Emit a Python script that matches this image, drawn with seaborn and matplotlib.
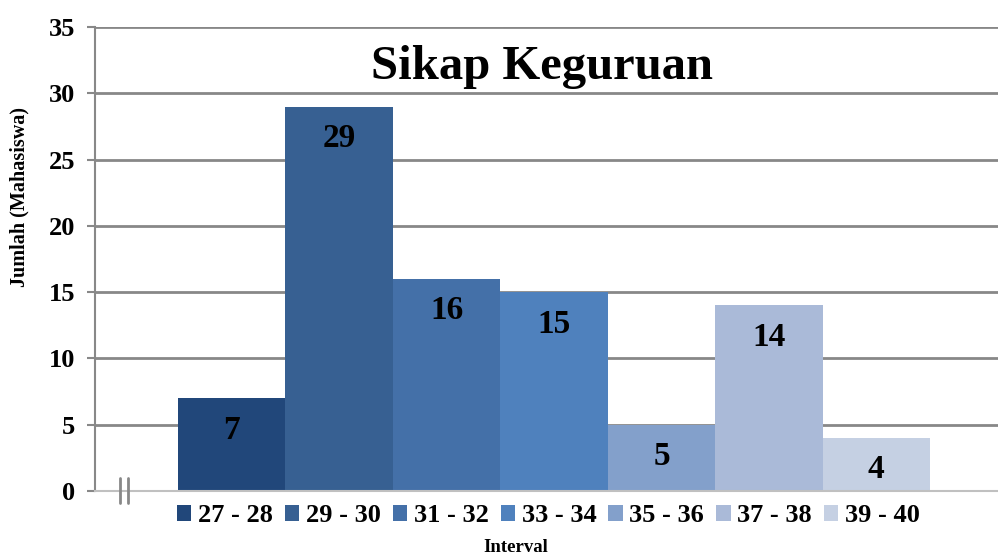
import pandas as pd
import matplotlib
matplotlib.use("Agg")
import matplotlib.pyplot as plt
import seaborn as sns

# data
intervals = ["27 - 28", "29 - 30", "31 - 32", "33 - 34", "35 - 36", "37 - 38", "39 - 40"]
jumlah = [7, 29, 16, 15, 5, 14, 4]
colors = ["#21477a", "#376092", "#4470a8", "#4f81bd", "#83a0cb", "#aabad8", "#c5d0e3"]

df = pd.DataFrame({"Interval": intervals, "Jumlah": jumlah})

sns.set_style("white")
plt.rcParams["font.family"] = ["Liberation Serif", "DejaVu Serif"]
plt.rcParams["font.weight"] = "bold"
plt.rcParams["text.color"] = "black"
plt.rcParams["axes.labelcolor"] = "black"
plt.rcParams["ytick.labelcolor"] = "black"

fig = plt.figure(figsize=(9.98, 5.59), dpi=100)
ax = fig.add_axes([95 / 998, 68 / 559, 903 / 998, 464 / 559])

sns.barplot(data=df, x="Interval", y="Jumlah", hue="Interval", palette=colors,
            width=1.0, legend=False, ax=ax, saturation=1, linewidth=0)

ax.set_xlim(-1.273, 7.133)
ax.set_ylim(0, 35)
ax.set_yticks(range(0, 36, 5))
ax.yaxis.grid(True, color="#888888", linewidth=2)
ax.set_axisbelow(True)
ax.set_xticks([])

for s in ["top", "right"]:
    ax.spines[s].set_visible(False)
ax.spines["left"].set_color("#888888")
ax.spines["left"].set_linewidth(1.5)
ax.spines["bottom"].set_color("#c0c0c0")
ax.spines["bottom"].set_linewidth(1.5)
ax.tick_params(axis="y", which="major", left=True, length=6, width=1.5, color="#888888",
               labelcolor="black", labelsize=19, pad=8)
for t in ax.get_yticklabels():
    t.set_fontweight("bold")

# value labels inside bars
for i, v in enumerate(jumlah):
    ax.annotate(str(v), (i, v), xytext=(0, -32), textcoords="offset pixels",
                ha="center", va="center", fontsize=24, fontweight="bold", color="black")

ax.set_title("Sikap Keguruan", fontsize=35, fontweight="bold", y=0.87, x=0.495, color="black")
ax.set_ylabel("Jumlah (Mahasiswa)", fontsize=14.5, fontweight="bold")
ax.yaxis.set_label_coords(-0.072, 0.634)
ax.set_xlabel("Interval", fontsize=13.5, fontweight="bold")
ax.xaxis.set_label_coords(0.466, -0.121)
ax.xaxis.label.set_va("center")

leg = ax.legend(ax.containers, intervals, ncol=7, loc="upper center",
                bbox_to_anchor=(0.502, 0.0), frameon=False, fontsize=19,
                handlelength=0.55, handleheight=0.55, handletextpad=0.25,
                columnspacing=0.45, borderaxespad=0.1)
for t in leg.get_texts():
    t.set_fontweight("bold")

# axis break mark
for xp in (120, 128):
    fig.add_artist(plt.Line2D([xp / 998, xp / 998], [56 / 559, 81 / 559],
                              transform=fig.transFigure, color="#888888", linewidth=2))

fig.savefig("out.png", dpi=100)
